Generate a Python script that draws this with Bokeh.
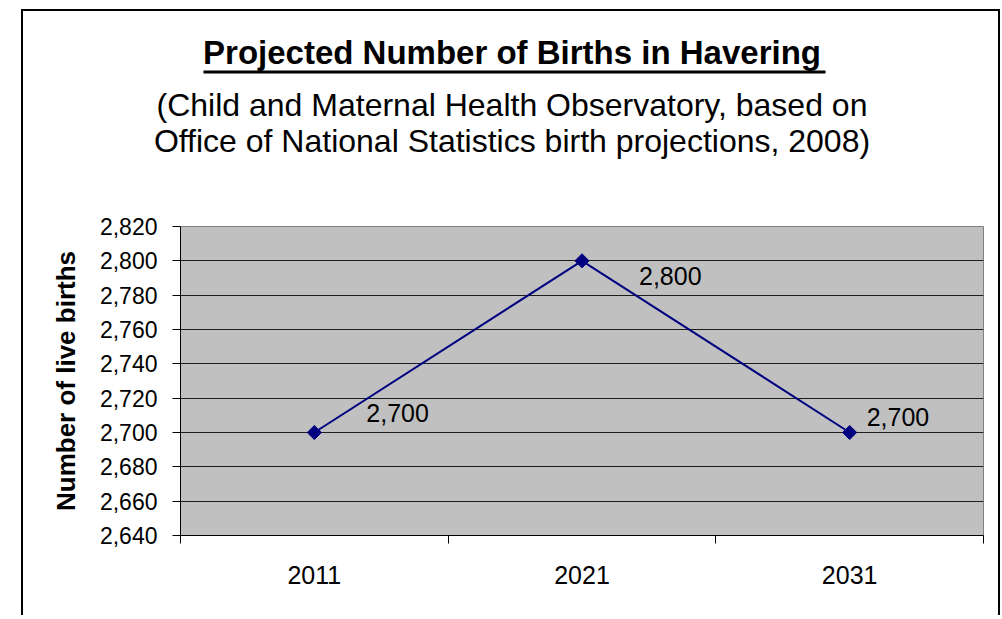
from bokeh.plotting import figure
from bokeh.layouts import column
from bokeh.core.properties import value
from bokeh.models import (Range1d, FixedTicker, NumeralTickFormatter, LinearAxis,
                          ColumnDataSource, LabelSet, Label, BoxAnnotation)
from bokeh.embed import file_html
from bokeh.resources import INLINE

# ---- data ----
years = ["2011", "2021", "2031"]
births = [2700, 2800, 2700]
y_ticks = [2640, 2660, 2680, 2700, 2720, 2740, 2760, 2780, 2800, 2820]

title_text = "Projected Number of Births in Havering"
subtitle_1 = "(Child and Maternal Health Observatory, based on"
subtitle_2 = "Office of National Statistics birth projections, 2008)"
y_label = "Number of live births"

# label placement (pixels, style only)
label_dx = [52, 57, 17]
label_dy = [20, -15, 16]

FONT = "Liberation Sans"
W = 975

# ---------------- title panel ----------------
TH = 160
t = figure(width=W, height=TH, x_range=Range1d(0, W), y_range=Range1d(0, TH),
           output_backend="svg", toolbar_location=None, x_axis_location=None,
           y_axis_location=None, min_border=0)
t.frame_align = False
t.outline_line_color = None
t.background_fill_color = "white"
t.border_fill_color = "white"
t.grid.visible = False
cx = 488.5
t.add_layout(Label(x=cx, y=119, x_units="screen", y_units="screen", text=title_text,
                   text_font=FONT, text_font_size="33px", text_font_style="bold",
                   text_align="center", text_baseline="middle", text_color="black"))
t.add_layout(BoxAnnotation(left=180, right=802, top=101, bottom=98,
                           left_units="screen", right_units="screen", top_units="screen",
                           bottom_units="screen", fill_color="black", fill_alpha=1,
                           line_color=None))
t.add_layout(Label(x=cx, y=67, x_units="screen", y_units="screen", text=subtitle_1,
                   text_font=FONT, text_font_size="32px",
                   text_align="center", text_baseline="middle", text_color="black"))
t.add_layout(Label(x=cx, y=31, x_units="screen", y_units="screen", text=subtitle_2,
                   text_font=FONT, text_font_size="32px",
                   text_align="center", text_baseline="middle", text_color="black"))

# ---------------- chart ----------------
n = len(years)
x_pos = [i + 0.5 for i in range(n)]   # category slots centred at i + 0.5

p = figure(width=W, height=444, x_range=Range1d(0, n), y_range=Range1d(2640, 2820),
           output_backend="svg", toolbar_location=None, x_axis_location=None,
           min_border_left=157, min_border_right=15, min_border_top=55, min_border_bottom=80)
p.frame_align = False
p.background_fill_color = "#C0C0C0"
p.border_fill_color = "white"
p.outline_line_color = "#808080"
p.outline_line_width = 1

yax = p.yaxis[0]
yax.ticker = FixedTicker(ticks=y_ticks)
yax.formatter = NumeralTickFormatter(format="0,0")
yax.major_tick_out = 8
yax.major_tick_in = 0
yax.minor_tick_line_color = None
yax.axis_line_color = "black"
yax.major_tick_line_color = "black"
yax.major_label_text_font = FONT
yax.major_label_text_font_size = "23px"
yax.major_label_text_color = "black"
yax.major_label_standoff = 15
yax.axis_label = y_label
yax.axis_label_text_font = FONT
yax.axis_label_text_font_size = "26px"
yax.axis_label_text_font_style = "bold"
yax.axis_label_text_color = "black"
yax.axis_label_standoff = 16

p.xgrid.visible = False
p.ygrid.ticker = FixedTicker(ticks=y_ticks)
p.ygrid.grid_line_color = "black"
p.ygrid.grid_line_alpha = 0.85

# x axis: boundary ticks (Excel style), then category labels at slot centres
tick_ax = LinearAxis(ticker=FixedTicker(ticks=list(range(n + 1))),
                     major_tick_out=8, major_tick_in=0, minor_tick_line_color=None,
                     axis_line_color="black", major_tick_line_color="black",
                     major_label_overrides={i: "" for i in range(n + 1)},
                     major_label_text_font_size="1px", major_label_standoff=0)
p.add_layout(tick_ax, "below")
cat_ax = LinearAxis(ticker=FixedTicker(ticks=x_pos),
                    major_label_overrides={xp: yr for xp, yr in zip(x_pos, years)},
                    axis_line_color=None, major_tick_line_color=None, minor_tick_line_color=None,
                    major_tick_out=0, major_tick_in=0,
                    major_label_text_font=FONT, major_label_text_font_size="25px",
                    major_label_text_color="black", major_label_standoff=22)
p.add_layout(cat_ax, "below")

src = ColumnDataSource(dict(x=x_pos, y=births, txt=[f"{v:,}" for v in births],
                            dx=label_dx, dy=label_dy))
p.line("x", "y", source=src, line_color="#000080", line_width=2)
p.scatter("x", "y", source=src, marker="square", angle=0.785398, size=10,
          fill_color="#000080", line_color="#000080")
p.add_layout(LabelSet(x="x", y="y", text="txt", source=src, x_offset="dx", y_offset="dy",
                      text_font=value(FONT), text_font_size="25px", text_color="black",
                      text_align="left", text_baseline="middle"))

layout = column(t, p, styles={"margin-left": "21px", "margin-top": "9px",
                              "border-top": "2px solid black",
                              "border-left": "2px solid black",
                              "border-right": "2px solid black"})

open("out.html", "w").write(file_html(layout, INLINE))
